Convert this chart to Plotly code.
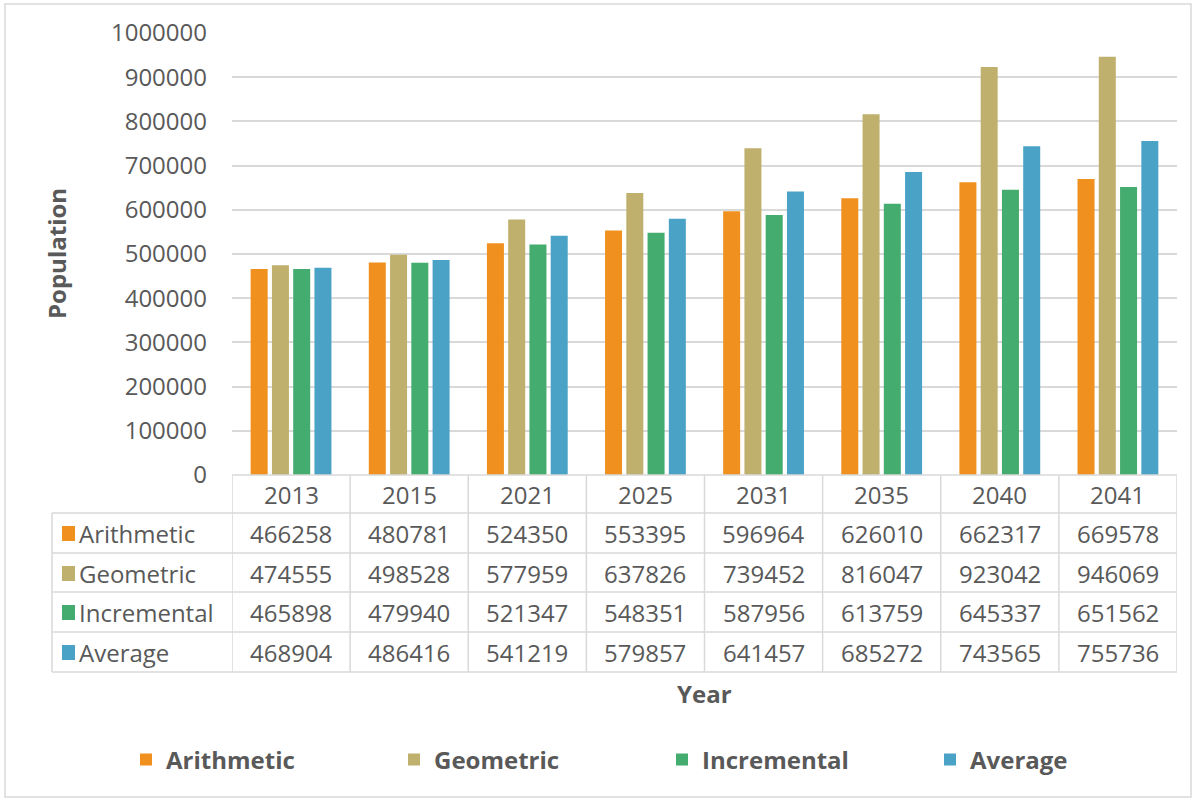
import plotly.graph_objects as go

years = ["2013", "2015", "2021", "2025", "2031", "2035", "2040", "2041"]
arithmetic = [466258, 480781, 524350, 553395, 596964, 626010, 662317, 669578]
geometric = [474555, 498528, 577959, 637826, 739452, 816047, 923042, 946069]
incremental = [465898, 479940, 521347, 548351, 587956, 613759, 645337, 651562]
average = [468904, 486416, 541219, 579857, 641457, 685272, 743565, 755736]
series_names = ["Arithmetic", "Geometric", "Incremental", "Average"]
series_values = [arithmetic, geometric, incremental, average]
colors = ["#F0901E", "#BFB16D", "#43AC6E", "#4AA3C6"]
y_ticks = list(range(0, 1000001, 100000))

W, H = 1198, 803
L, R, T, B = 232, 1177, 33, 475
PW, PH = R - L, B - T
FONT = "Open Sans"
TXT = "#595959"
LINE = "#D9D9D9"
FS = 24


def px(xp):
    return (xp - L) / PW


def py(yp):
    return (B - yp) / PH


fig = go.Figure()
for name, vals, col in zip(series_names, series_values, colors):
    fig.add_trace(go.Bar(x=years, y=vals, name="<b>" + name + "</b>",
                         marker=dict(color=col, line=dict(width=0))))

shapes = []
annotations = []

# table geometry (pixels)
row_lines = [513, 553, 592, 632, 672]
row_centers = [533, 573, 612, 652]
header_center = 494
tbl_left = 52

# horizontal lines
shapes.append(dict(type="line", xref="paper", yref="paper", x0=0, x1=1, y0=py(B), y1=py(B),
                   line=dict(color=LINE, width=1.5)))
for yl in row_lines:
    shapes.append(dict(type="line", xref="paper", yref="paper", x0=px(tbl_left), x1=1, y0=py(yl), y1=py(yl),
                       line=dict(color=LINE, width=1.5)))
# vertical lines
shapes.append(dict(type="line", xref="paper", yref="paper", x0=px(tbl_left), x1=px(tbl_left),
                   y0=py(row_lines[0]), y1=py(row_lines[-1]), line=dict(color=LINE, width=1.5)))
for i in range(len(years) + 1):
    shapes.append(dict(type="line", xref="x", yref="paper", x0=i - 0.5, x1=i - 0.5,
                       y0=py(B), y1=py(row_lines[-1]), line=dict(color=LINE, width=1.5)))

# header
for i, yr in enumerate(years):
    annotations.append(dict(x=i, y=py(header_center), xref="x", yref="paper", text=yr, showarrow=False,
                            font=dict(family=FONT, size=FS, color=TXT), xanchor="center", yanchor="middle"))
# rows
for r, (name, vals, col) in enumerate(zip(series_names, series_values, colors)):
    yc = row_centers[r]
    shapes.append(dict(type="rect", xref="paper", yref="paper", x0=px(62), x1=px(75),
                       y0=py(yc - 7), y1=py(yc + 8), fillcolor=col, line=dict(width=0)))
    annotations.append(dict(x=px(77), y=py(yc), xref="paper", yref="paper", text=name, showarrow=False,
                            font=dict(family=FONT, size=FS, color=TXT), xanchor="left", yanchor="middle"))
    for i, v in enumerate(vals):
        annotations.append(dict(x=i, y=py(yc), xref="x", yref="paper", text=str(v), showarrow=False,
                                font=dict(family=FONT, size=FS, color=TXT), xanchor="center", yanchor="middle"))

# axis titles
annotations.append(dict(x=px(56), y=0.5, xref="paper", yref="paper", text="<b>Population</b>", textangle=-90,
                        showarrow=False, font=dict(family=FONT, size=FS, color=TXT),
                        xanchor="center", yanchor="middle"))
annotations.append(dict(x=0.5, y=py(693), xref="paper", yref="paper", text="<b>Year</b>",
                        showarrow=False, font=dict(family=FONT, size=FS, color=TXT),
                        xanchor="center", yanchor="middle"))

# outer border
shapes.append(dict(type="rect", xref="paper", yref="paper", x0=px(5), x1=px(1191), y0=py(4), y1=py(797),
                   line=dict(color="#D9D9D9", width=1.5), fillcolor="rgba(0,0,0,0)", layer="below"))

fig.update_layout(
    width=W, height=H,
    margin=dict(l=L, r=W - R, t=T, b=H - B, pad=0),
    paper_bgcolor="white", plot_bgcolor="white",
    barmode="group", bargap=0.28, bargroupgap=0.2,
    font=dict(family=FONT, color=TXT),
    xaxis=dict(showticklabels=False, showgrid=False, zeroline=False, showline=False, ticks="",
               range=[-0.5, len(years) - 0.5]),
    yaxis=dict(range=[0, 1000000], tickvals=y_ticks, ticktext=[str(t) for t in y_ticks],
               showgrid=True, gridcolor=LINE, gridwidth=1.5, zeroline=False, showline=False,
               ticks="", ticklabelstandoff=24, tickfont=dict(family=FONT, size=FS, color=TXT)),
    legend=dict(orientation="h", x=px(183), y=py(760), xanchor="left", yanchor="middle",
                entrywidth=223, entrywidthmode="pixels", traceorder="normal",
                font=dict(family=FONT, size=FS, color=TXT), bgcolor="rgba(0,0,0,0)"),
    shapes=shapes, annotations=annotations,
)

fig.write_html("out.html")
